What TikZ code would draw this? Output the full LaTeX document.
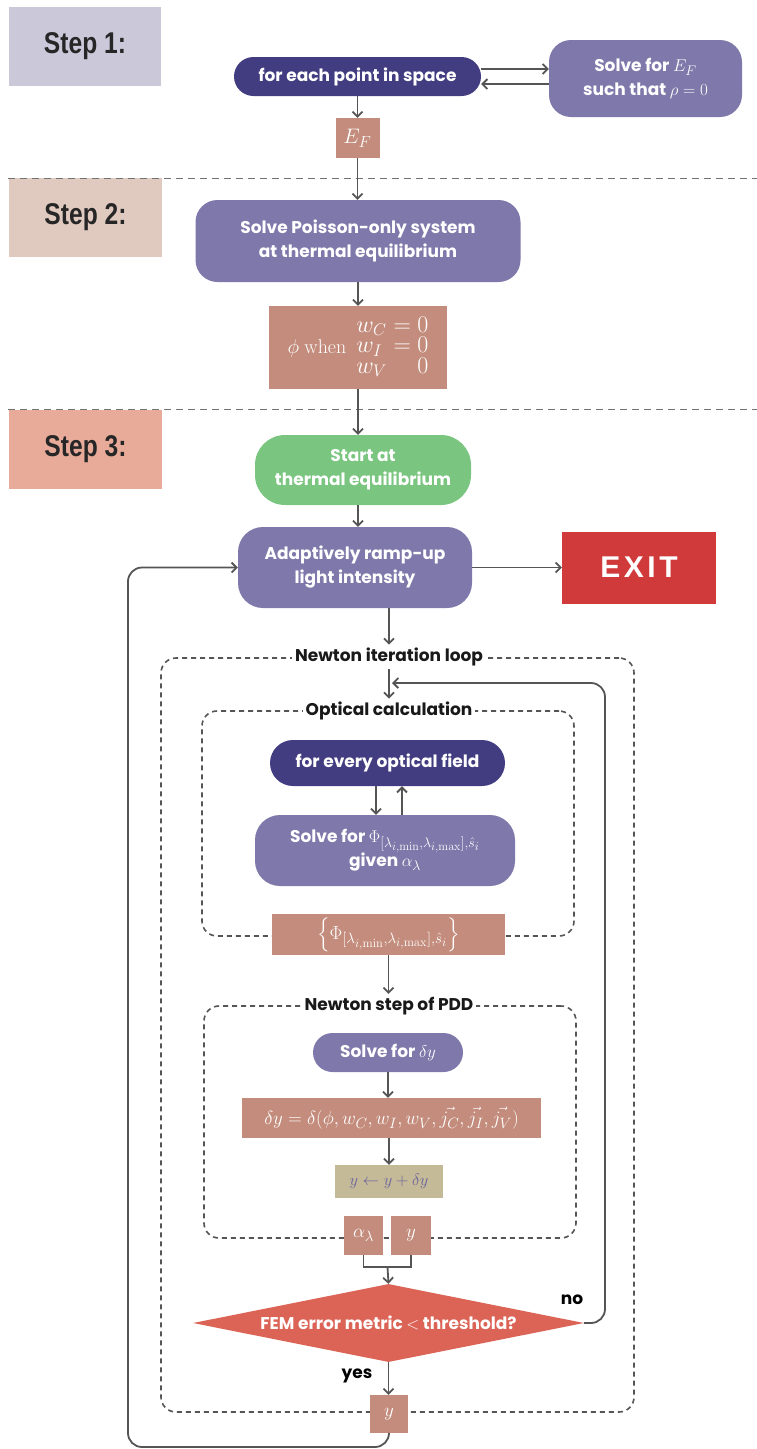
\RequirePackage{fix-cm}
\documentclass[tikz,border=0pt]{standalone}
\usepackage{amsmath,amssymb}
\usepackage[no-math]{fontspec}
\setmainfont{Poppins}
\newfontfamily\stepfont[FakeStretch=0.82]{Liberation Sans}
\newfontfamily\exitfont[LetterSpace=12]{Liberation Sans}
\usepackage{xcolor}
\usetikzlibrary{arrows.meta,calc,shapes.geometric}

\DeclareMathSizes{17}{17}{14}{12}
\DeclareMathSizes{19}{19}{15}{12.5}
\DeclareMathSizes{21}{21}{16}{13}

\definecolor{stepone}{HTML}{CBC8DA}
\definecolor{steptwo}{HTML}{E0CABF}
\definecolor{stepthree}{HTML}{E8AB9A}
\definecolor{navyc}{HTML}{413D80}
\definecolor{purplec}{HTML}{7F78AA}
\definecolor{valc}{HTML}{C38C7C}
\definecolor{greenc}{HTML}{7AC57F}
\definecolor{exitc}{HTML}{D13A3B}
\definecolor{diac}{HTML}{DB6457}
\definecolor{khakic}{HTML}{C4BA97}
\definecolor{updtxt}{HTML}{6A62A0}
\definecolor{linec}{HTML}{555555}

\begin{document}
\begin{tikzpicture}[x=1pt, y=-1pt,
          flow/.style={text=white, inner sep=0pt, align=center, font=\fontsize{17}{24}\selectfont\bfseries},
          val/.style={fill=valc, text=white, inner sep=0pt, font=\fontsize{19}{19}\selectfont},
          steplbl/.style={inner sep=0pt, text=black!85, font=\stepfont\bfseries\fontsize{30}{30}\selectfont},
          dashbox/.style={draw=linec, line width=1.6pt, dash pattern=on 5pt off 4pt, rounded corners=15pt, inner sep=0pt},
          boxlbl/.style={fill=white, inner sep=3pt, text=black!90, font=\fontsize{17}{17}\selectfont\bfseries},
          sep/.style={draw=black!55, line width=1pt, dash pattern=on 7pt off 5pt},
          arr/.style={-{Straight Barb[length=5pt, width=10pt]}, line width=1.8pt, draw=linec},
          link/.style={line width=1.8pt, draw=linec}
      ]
        \useasboundingbox (0,0) rectangle (757,1449);

        \node[steplbl, fill=stepone, minimum width=152, minimum height=79] (step1) at (85,46) {Step 1:};
        \node[steplbl, fill=steptwo, minimum width=153, minimum height=79] (step2) at (85.5,217.5) {Step 2:};
        \node[steplbl, fill=stepthree, minimum width=153, minimum height=79] (step3) at (85.5,449.5) {Step 3:};
        \draw[sep] (8,178) -- (757,178);
        \draw[sep] (8,409) -- (757,409);

        \node[dashbox, minimum width=473, minimum height=754] (loopbox) at (397.5,1035) {};
        \node[dashbox, minimum width=372, minimum height=225] (optbox) at (388,823.5) {};
        \node[dashbox, minimum width=372, minimum height=232] (pddbox) at (390,1122) {};
        \node[boxlbl] (looplbl) at (389,657) {Newton iteration loop};
        \node[boxlbl] (optlbl) at (389,711) {Optical calculation};
        \node[boxlbl] (pddlbl) at (389,1006) {Newton step of PDD};

        \node[flow, fill=navyc, minimum width=247, minimum height=39, rounded corners=19.5pt] (eachpt) at (357.5,76.5) {for each point in space};
        \node[flow, fill=purplec, minimum width=193, minimum height=77, rounded corners=22pt] (solveef) at (645.5,78.5) {Solve for $E_F$\\ such that $\rho = 0$};
        \node[val, minimum width=44, minimum height=40, font=\fontsize{21}{21}\selectfont] (ef) at (357.5,138) {$E_F$};
        \node[flow, fill=purplec, minimum width=325, minimum height=82, rounded corners=22pt] (poisson) at (358,241) {Solve Poisson-only system\\ at thermal equilibrium};
        \node[val, minimum width=178, minimum height=83, font=\fontsize{20}{17}\selectfont] (phi) at (358,347.5)
          {$\phi\ \mathrm{when}$\enspace{\fontsize{24}{17}\selectfont$\begin{array}{@{}l@{}l@{}} w_C & {}=0\\ w_I & {}=0\\ w_V & \phantom{{}={}}0\end{array}$}};
        \node[flow, fill=greenc, minimum width=216, minimum height=70, rounded corners=30pt] (start) at (363,470) {Start at\\ thermal equilibrium};
        \node[flow, fill=purplec, minimum width=234, minimum height=81, rounded corners=25pt] (ramp) at (355,567.5) {Adaptively ramp-up\\ light intensity};
        \node[fill=exitc, text=white, inner sep=0pt, minimum width=154, minimum height=72, font=\exitfont\bfseries\fontsize{30}{30}\selectfont] (exit) at (639,567.5) {EXIT};

        \node[flow, fill=navyc, minimum width=235, minimum height=46, rounded corners=23pt] (field) at (387.5,763) {for every optical field};
        \node[flow, fill=purplec, minimum width=260, minimum height=71, rounded corners=25pt] (solvephi) at (385,850.5) {Solve for $\Phi_{[\lambda_{i,\min},\lambda_{i,\max}],\hat{s}_i}$\\ given $\alpha_\lambda$};
        \node[val, minimum width=233, minimum height=41] (phiset) at (388.5,934.5) {$\left\{\Phi_{[\lambda_{i,\min},\lambda_{i,\max}],\hat{s}_i}\right\}$};

        \node[flow, fill=purplec, minimum width=150, minimum height=39, rounded corners=19.5pt] (solvedy) at (388,1052.5) {Solve for $\delta y$};
        \node[val, minimum width=299, minimum height=40] (dy) at (391.5,1118) {$\delta y = \delta(\phi, w_C, w_I, w_V, \vec{j_C}, \vec{j_I}, \vec{j_V})$};
        \node[fill=khakic, text=updtxt, inner sep=0pt, minimum width=108, minimum height=33, font=\fontsize{16.5}{16.5}\selectfont] (update) at (389,1181.5) {$y \leftarrow y + \delta y$};
        \node[val, minimum width=39, minimum height=39] (alpha) at (363.5,1235.5) {$\alpha_\lambda$};
        \node[val, minimum width=40, minimum height=39] (ynew) at (411,1235.5) {$y$};

        \node[diamond, fill=diac, text=white, inner sep=0pt, aspect=5, minimum width=391, minimum height=78, font=\fontsize{17}{17}\selectfont\bfseries] (dia) at (388.5,1323) {FEM error metric $<$ threshold?};
        \node[inner sep=0pt, font=\fontsize{17}{17}\selectfont\bfseries] (nolbl) at (572,1300) {no};
        \node[inner sep=0pt, font=\fontsize{17}{17}\selectfont\bfseries] (yeslbl) at (357,1376) {yes};
        \node[val, minimum width=38, minimum height=38] (yout) at (389,1414) {$y$};

        \coordinate (efout) at ([yshift=7.5pt]eachpt.east);
        \coordinate (efback) at ([yshift=-7.5pt]eachpt.east);
        \coordinate (fdown) at ([xshift=-11.5pt]field.south);
        \coordinate (fup) at ([xshift=14.5pt]field.south);
        \coordinate (merge) at (387.5,1267);
        \coordinate (noup) at (605,683);
        \coordinate (backbl) at (128,1447);

        \draw[arr] (efout) -- (efout -| solveef.west);
        \draw[arr] (efback -| solveef.west) -- (efback);
        \draw[arr] (eachpt.south) -- (ef.north);
        \draw[arr] (ef.south) -- (ef.south |- poisson.north);
        \draw[arr] (poisson.south) -- (phi.north);
        \draw[arr] (phi.south) -- (phi.south |- start.north);
        \draw[arr] (phi.south |- start.south) -- (phi.south |- ramp.north);
        \draw[arr] (ramp.east) -- (exit.west);
        \draw[arr] (looplbl.north |- ramp.south) -- (looplbl.north);
        \draw[arr] (looplbl.south) -- (optlbl.north);
        \draw[arr] (fdown) -- (fdown |- solvephi.north);
        \draw[arr] (fup |- solvephi.north) -- (fup);
        \draw[arr] (phiset.south) -- (phiset.south |- pddlbl.north);
        \draw[arr] (solvedy.south) -- (solvedy.south |- dy.north);
        \draw[arr] (update.north |- dy.south) -- (update.north);
        \draw[link] (alpha.south) |- (ynew.south |- merge) -- (ynew.south);
        \draw[arr] (merge) -- (dia.north);
        \draw[arr] (dia.south) -- (dia.south |- yout.north);
        \draw[arr, rounded corners=14pt] (dia.east) -| (noup) -- ([xshift=3pt]looplbl.south |- noup);
        \draw[arr, rounded corners=14pt] (yout.south) |- (backbl) |- (ramp.west);
      \end{tikzpicture}
\end{document}
